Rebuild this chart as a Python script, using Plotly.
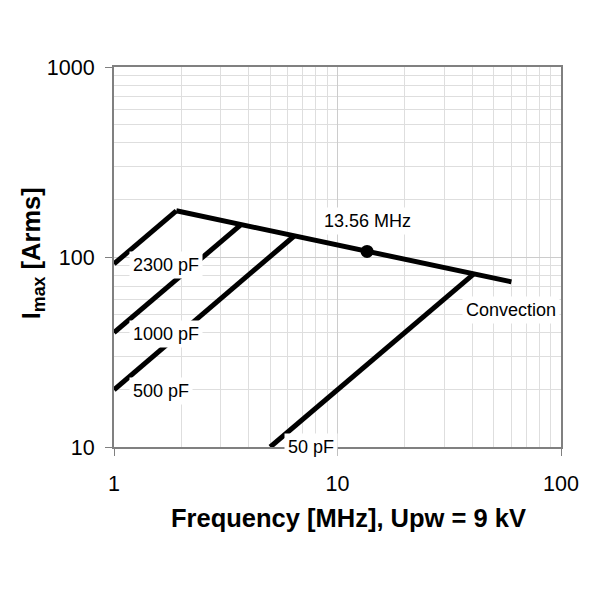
import math
import plotly.graph_objects as go

# Frequency in MHz, current in A rms
freq_2300 = [1, 1.9]
amps_2300 = [92, 175]
freq_1000 = [1, 3.7]
amps_1000 = [40, 148]
freq_500 = [1, 6.4]
amps_500 = [20, 129]
freq_50 = [5, 40.5]
amps_50 = [10, 81]
freq_conv = [1.9, 60]
amps_conv = [175, 74]
freq_ism = [13.56]
amps_ism = [107]

x_tickvals = [1, 10, 100]
y_tickvals = [10, 100, 1000]

FONT = "Liberation Sans, Arial, sans-serif"
LINE = dict(color="black", width=5)

fig = go.Figure()
for fx, fy in [(freq_2300, amps_2300), (freq_1000, amps_1000), (freq_500, amps_500),
               (freq_50, amps_50), (freq_conv, amps_conv)]:
    fig.add_trace(go.Scatter(x=fx, y=fy, mode="lines", line=LINE, showlegend=False,
                             hoverinfo="skip"))
fig.add_trace(go.Scatter(x=freq_ism, y=amps_ism, mode="markers",
                         marker=dict(color="black", size=13), showlegend=False))


def label(text, fx, fy, xshift=0, yshift=0, xanchor="left"):
    return dict(x=math.log10(fx), y=math.log10(fy), xref="x", yref="y", text=text,
                showarrow=False, xanchor=xanchor, yanchor="middle",
                xshift=xshift, yshift=yshift, bgcolor="white", borderpad=3,
                font=dict(family=FONT, size=18, color="black"))


annotations = [
    label("2300 pF", freq_2300[0], amps_2300[0], xshift=15, yshift=-1),
    label("1000 pF", freq_1000[0], amps_1000[0], xshift=15, yshift=-1),
    label("500 pF", freq_500[0], amps_500[0], xshift=15, yshift=-1),
    label("50 pF", freq_50[0], amps_50[0], xshift=14),
    label("Convection", freq_conv[-1], amps_conv[-1], yshift=-28, xanchor="center"),
    label("13.56 MHz", freq_ism[0], amps_ism[0], yshift=30, xanchor="center"),
    dict(x=0.5235, y=-0.187, xref="paper", yref="paper", showarrow=False,
         xanchor="center", yanchor="middle",
         text="<b>Frequency [MHz], Upw = 9 kV</b>",
         font=dict(family=FONT, size=25.5, color="black")),
    dict(x=-0.181, y=0.51, xref="paper", yref="paper", showarrow=False, textangle=-90,
         xanchor="center", yanchor="middle",
         text="<b>I<sub>max</sub> [Arms]</b>",
         font=dict(family=FONT, size=25.5, color="black")),
]

axis_common = dict(
    type="log", showline=True, mirror=True, linecolor="#808080", linewidth=2,
    ticks="outside", ticklen=7, tickcolor="#808080", tickwidth=1,
    showgrid=True, gridcolor="#cccccc", gridwidth=1, zeroline=False,
    tickfont=dict(family=FONT, size=21.5, color="black"),
    minor=dict(dtick="D1", showgrid=True, gridcolor="#dedede", gridwidth=1, ticks=""),
)

fig.update_layout(
    width=600, height=600,
    margin=dict(l=114, r=39, t=67, b=153),
    paper_bgcolor="white", plot_bgcolor="white",
    font=dict(family=FONT, color="black"),
    xaxis=dict(axis_common, range=[0, 2], tickvals=x_tickvals,
               ticktext=[str(v) for v in x_tickvals], ticklabelstandoff=9),
    yaxis=dict(axis_common, range=[1, 3], tickvals=y_tickvals,
               ticktext=[str(v) for v in y_tickvals], ticklabelstandoff=6),
    annotations=annotations,
)

fig.write_html("out.html", config={"displayModeBar": False},
               post_script="document.body.style.margin='0';")
